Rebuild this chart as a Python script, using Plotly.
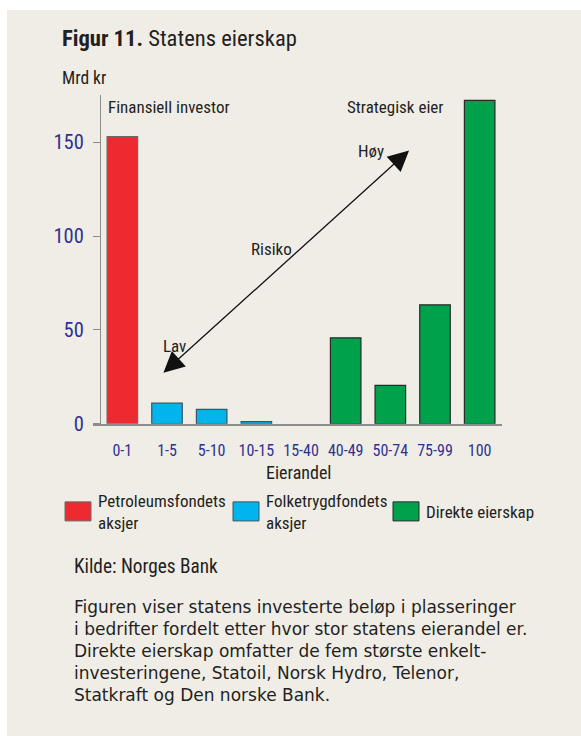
import plotly.graph_objects as go

# the photographed page comes out slightly squeezed vertically, so the figure
# is drawn a little taller; positions are fractions of the 581x736 picture
W, H = 581, 750
REF_W, REF_H = 581, 736

categories = ["0-1", "1-5", "5-10", "10-15", "15-40", "40-49", "50-74", "75-99", "100"]

petro_x = ["0-1"]
petro_y = [153]
folke_x = ["1-5", "5-10", "10-15"]
folke_y = [11, 7.7, 1.2]
direkte_x = ["40-49", "50-74", "75-99", "100"]
direkte_y = [45.8, 20.5, 63.4, 172.3]

series_names = ["Petroleumsfondets<br>aksjer", "Folketrygdfondets<br>aksjer", "Direkte eierskap"]
colors = ["#EE2A30", "#00B5EC", "#00A14B"]
outlines = ["#6a6a6a", "#3d5560", "#2a2a2a"]

y_ticks = [0, 50, 100, 150]

NARROW = "Liberation Sans Narrow, Arial Narrow, Roboto Condensed, Liberation Sans, sans-serif"
BODY = "DejaVu Sans, Liberation Sans, sans-serif"
TXT = "#231F20"
BLUE = "#2E3192"
BG = "#F0EDE7"


def px(x):
    return x / REF_W


def py(y):
    return 1 - y / REF_H


fig = go.Figure()
for name, xs, ys, c, oc in zip(series_names, [petro_x, folke_x, direkte_x],
                               [petro_y, folke_y, direkte_y], colors, outlines):
    fig.add_trace(go.Bar(x=xs, y=ys, name=name, width=0.684,
                         marker=dict(color=c, line=dict(color=oc, width=1.2)),
                         showlegend=False))

fig.update_layout(
    width=W, height=H,
    margin=dict(l=0, r=0, t=0, b=0),
    paper_bgcolor=BG, plot_bgcolor="rgba(0,0,0,0)",
    barmode="overlay",
    xaxis=dict(domain=[px(93), px(502)], range=[-0.657, 8.5],
               type="category", categoryorder="array", categoryarray=categories,
               showline=True, linecolor="#8c8c8c", linewidth=1.5,
               showgrid=False, zeroline=False, ticks="",
               tickfont=dict(family=NARROW, size=16, color=BLUE),
               ticklabelstandoff=11, fixedrange=True),
    yaxis=dict(domain=[py(422.7), py(95)], range=[0, 175],
               anchor="free", position=px(100),
               showline=True, linecolor="#8c8c8c", linewidth=1.2,
               showgrid=False, zeroline=False,
               ticks="outside", ticklen=7, tickcolor="#8c8c8c", tickwidth=1.2,
               tickvals=y_ticks,
               tickfont=dict(family=NARROW, size=20.5, color=BLUE),
               ticklabelstandoff=5, fixedrange=True),
)

shapes = [
    dict(type="rect", xref="paper", yref="paper", x0=0, x1=1, y0=py(10), y1=1,
         fillcolor="white", line=dict(width=0), layer="below"),
    dict(type="rect", xref="paper", yref="paper", x0=0, x1=px(7), y0=0, y1=1,
         fillcolor="white", line=dict(width=0), layer="below"),
]
legend_x = [65, 233, 393]
for lx, c, oc in zip(legend_x, colors, outlines):
    shapes.append(dict(type="rect", xref="paper", yref="paper",
                       x0=px(lx), x1=px(lx + 26), y0=py(519.5), y1=py(500.5),
                       fillcolor=c, line=dict(color=oc, width=1)))
fig.update_layout(shapes=shapes)

ann = []


def text(x, y, s, size, family=NARROW, color=TXT, xanchor="left"):
    ann.append(dict(x=px(x), y=py(y), xref="paper", yref="paper", text=s,
                    showarrow=False, xanchor=xanchor, yanchor="middle",
                    font=dict(family=family, size=size, color=color), align="left"))


text(60, 38, "<b>Figur 11.</b> Statens eierskap", 22.6)
text(60, 78, "Mrd kr", 17.5)
text(106, 107, "Finansiell investor", 17)
text(345, 107, "Strategisk eier", 17)
text(356, 151, "Høy", 17)
text(161, 345, "Lav", 17)
text(249, 248, "Risiko", 17)
text(299, 471, "Eierandel", 18, xanchor="center")
for lx, name in zip(legend_x, series_names):
    text(lx + 31, 511, name, 17)
text(72, 565, "Kilde: Norges Bank", 19.3)
text(72, 649,
     "Figuren viser statens investerte beløp i plasseringer<br>"
     "i bedrifter fordelt etter hvor stor statens eierandel er.<br>"
     "Direkte eierskap omfatter de fem største enkelt-<br>"
     "investeringene, Statoil, Norsk Hydro, Telenor,<br>"
     "Statkraft og Den norske Bank.", 17, family=BODY)

# double-headed risk arrow
ann.append(dict(x=6.42, y=145.6, ax=0.886, ay=26.5, xref="x", yref="y",
                axref="x", ayref="y", text="", showarrow=True,
                arrowside="end+start", arrowhead=2, startarrowhead=2,
                arrowsize=3.2, startarrowsize=3.2, arrowwidth=1.3,
                arrowcolor="#111111"))
fig.update_layout(annotations=ann)

# pin the figure to the window corner so the page never overflows
pin = ("var d=document.getElementById('{plot_id}');"
       "d.style.position='fixed';d.style.left='0';d.style.top='0';"
       "document.body.style.margin='0';")
fig.write_html("out.html", config={"displayModeBar": False}, post_script=pin)
